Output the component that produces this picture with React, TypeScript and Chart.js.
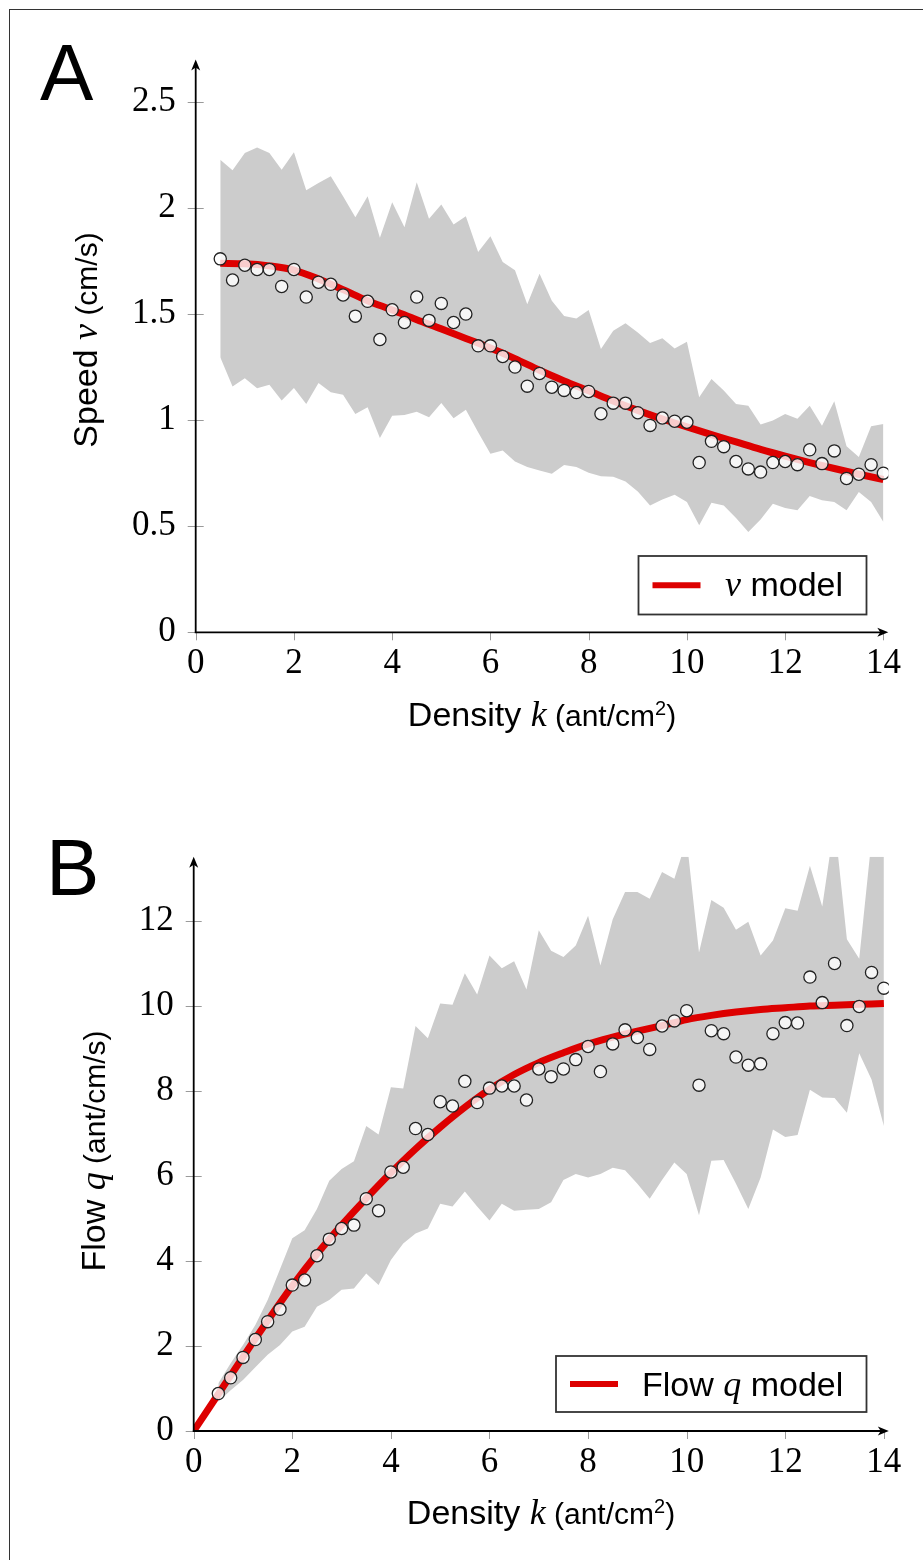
import React, { useEffect, useRef } from 'react';
import { Chart, registerables } from 'chart.js';

Chart.register(...registerables);

const SANS = "'Liberation Sans', Arial, sans-serif";
const SERIF = "'Liberation Serif', 'Times New Roman', serif";

// ---- data ----
const kPoints = [0.5, 0.75, 1, 1.25, 1.5, 1.75, 2, 2.25, 2.5, 2.75, 3, 3.25, 3.5, 3.75, 4, 4.25, 4.5, 4.75, 5, 5.25, 5.5, 5.75, 6, 6.25, 6.5, 6.75, 7, 7.25, 7.5, 7.75, 8, 8.25, 8.5, 8.75, 9, 9.25, 9.5, 9.75, 10, 10.25, 10.5, 10.75, 11, 11.25, 11.5, 11.75, 12, 12.25, 12.5, 12.75, 13, 13.25, 13.5, 13.75, 14];

const vPoints = [1.76, 1.66, 1.73, 1.71, 1.71, 1.63, 1.71, 1.58, 1.65, 1.64, 1.59, 1.49, 1.56, 1.38, 1.52, 1.46, 1.58, 1.47, 1.55, 1.46, 1.5, 1.35, 1.35, 1.3, 1.25, 1.16, 1.22, 1.155, 1.14, 1.13, 1.135, 1.03, 1.08, 1.08, 1.035, 0.975, 1.01, 0.995, 0.99, 0.8, 0.9, 0.875, 0.805, 0.77, 0.755, 0.8, 0.805, 0.79, 0.86, 0.795, 0.855, 0.725, 0.745, 0.79, 0.75];
const vUpper = [2.227, 2.177, 2.259, 2.285, 2.259, 2.18, 2.262, 2.083, 2.118, 2.149, 2.055, 1.956, 2.055, 1.859, 2.027, 1.909, 2.121, 1.949, 2.016, 1.922, 1.961, 1.792, 1.867, 1.745, 1.706, 1.546, 1.69, 1.562, 1.491, 1.479, 1.519, 1.335, 1.421, 1.457, 1.413, 1.363, 1.386, 1.338, 1.369, 1.108, 1.194, 1.139, 1.076, 1.068, 0.979, 0.998, 1.029, 1.006, 1.068, 0.974, 1.089, 0.877, 0.826, 0.971, 0.982];
const vLower = [1.296, 1.159, 1.197, 1.15, 1.167, 1.092, 1.151, 1.076, 1.175, 1.131, 1.12, 1.029, 1.061, 0.916, 1.021, 1.024, 1.04, 1.014, 1.081, 1.009, 1.049, 0.943, 0.841, 0.857, 0.805, 0.779, 0.763, 0.747, 0.789, 0.779, 0.752, 0.736, 0.733, 0.711, 0.664, 0.598, 0.626, 0.648, 0.614, 0.504, 0.611, 0.598, 0.539, 0.473, 0.532, 0.606, 0.586, 0.575, 0.642, 0.622, 0.614, 0.575, 0.661, 0.614, 0.52];
const vModelK = [0.5, 1, 1.5, 2, 2.5, 3, 3.5, 4, 4.5, 5, 5.5, 6, 6.5, 7, 7.5, 8, 8.5, 9, 9.5, 10, 10.5, 11, 11.5, 12, 12.5, 13, 13.5, 14];
const vModel = [1.739, 1.737, 1.727, 1.707, 1.665, 1.615, 1.563, 1.519, 1.473, 1.43, 1.385, 1.34, 1.29, 1.235, 1.185, 1.138, 1.09, 1.046, 1.005, 0.968, 0.932, 0.897, 0.862, 0.83, 0.8, 0.772, 0.745, 0.72];

const qPoints = [0.88, 1.25, 1.73, 2.15, 2.57, 2.86, 3.43, 3.55, 4.12, 4.51, 4.76, 4.84, 5.46, 5.18, 6.09, 6.2, 7.11, 6.97, 7.74, 7.64, 8.22, 7.72, 8.06, 8.11, 8.11, 7.78, 8.51, 8.33, 8.51, 8.73, 9.04, 8.45, 9.1, 9.43, 9.25, 8.97, 9.52, 9.64, 9.88, 8.13, 9.41, 9.34, 8.79, 8.6, 8.63, 9.34, 9.6, 9.59, 10.67, 10.07, 10.99, 9.53, 9.98, 10.78, 10.41];
const qUpper = [1.12, 1.59, 2.02, 2.49, 3.08, 3.8, 4.53, 4.72, 5.22, 5.88, 6.16, 6.34, 7.17, 6.97, 8.08, 8.05, 9.52, 9.23, 10.05, 10.02, 10.76, 10.26, 11.18, 10.88, 11.04, 10.38, 11.77, 11.29, 11.14, 11.41, 12.11, 10.94, 12.03, 12.67, 12.67, 12.51, 13.14, 12.98, 13.9, 11.25, 12.48, 12.3, 11.78, 11.97, 11.18, 11.53, 12.29, 12.23, 13.29, 12.33, 14.3, 11.56, 11.1, 13.9, 14.2];
const qLower = [0.69, 0.96, 1.2, 1.5, 1.79, 2.02, 2.34, 2.45, 2.92, 3.08, 3.32, 3.35, 3.7, 3.43, 4.02, 4.41, 4.64, 4.76, 5.34, 5.28, 5.63, 5.28, 4.95, 5.34, 5.18, 5.2, 5.22, 5.38, 5.9, 6.04, 5.96, 6.04, 6.19, 6.13, 5.81, 5.46, 5.9, 6.31, 6.04, 5.07, 6.35, 6.37, 5.81, 5.22, 5.96, 7.09, 6.91, 6.96, 8.02, 7.84, 7.83, 7.48, 8.88, 8.26, 7.17];
const qModelK = [0, 0.5, 1, 1.5, 2, 2.5, 3, 3.5, 4, 4.5, 5, 5.5, 6, 6.5, 7, 7.5, 8, 8.5, 9, 9.5, 10, 10.5, 11, 11.5, 12, 12.5, 13, 13.5, 14];
const qModel = [0, 0.87, 1.74, 2.59, 3.41, 4.16, 4.84, 5.47, 6.07, 6.63, 7.14, 7.61, 8.03, 8.38, 8.66, 8.89, 9.1, 9.26, 9.4, 9.53, 9.67, 9.77, 9.85, 9.91, 9.95, 9.99, 10.01, 10.03, 10.05];

const xTicks = [0, 2, 4, 6, 8, 10, 12, 14];
const vTicks = [0, 0.5, 1, 1.5, 2, 2.5];
const qTicks = [0, 2, 4, 6, 8, 10, 12];

type Part = { t: string; font: string; dy?: number };

function drawParts(ctx: CanvasRenderingContext2D, parts: Part[], cx: number, by: number) {
  const widths = parts.map((p) => {
    ctx.font = p.font;
    return ctx.measureText(p.t).width;
  });
  const total = widths.reduce((a, b) => a + b, 0);
  let x = cx - total / 2;
  ctx.textAlign = 'left';
  ctx.textBaseline = 'alphabetic';
  parts.forEach((p, i) => {
    ctx.font = p.font;
    ctx.fillText(p.t, x, by + (p.dy || 0));
    x += widths[i];
  });
}

const decorPlugin = {
  id: 'decor',
  afterDraw(chart: any, _args: any, o: any) {
    const ctx: CanvasRenderingContext2D = chart.ctx;
    const xs = chart.scales.x;
    const ys = chart.scales.y;
    const ca = chart.chartArea;
    const x0 = xs.getPixelForValue(0);
    const y0 = ys.getPixelForValue(0);
    ctx.save();
    // tick marks
    ctx.strokeStyle = '#9a9a9a';
    ctx.lineWidth = 1;
    ctx.beginPath();
    for (const t of o.yTicks) {
      const y = Math.round(ys.getPixelForValue(t)) + 0.5;
      ctx.moveTo(x0 - 8, y);
      ctx.lineTo(x0 + 8, y);
    }
    for (const t of o.xTicks) {
      const x = Math.round(xs.getPixelForValue(t)) + 0.5;
      ctx.moveTo(x, y0);
      ctx.lineTo(x, y0 + 8);
    }
    ctx.stroke();
    // axes
    ctx.strokeStyle = '#000';
    ctx.fillStyle = '#000';
    ctx.lineWidth = 1.8;
    ctx.beginPath();
    ctx.moveTo(x0, y0 + 1);
    ctx.lineTo(x0, ca.top + 5);
    ctx.moveTo(x0 - 1, y0);
    ctx.lineTo(ca.right - 5, y0);
    ctx.stroke();
    // arrow heads
    ctx.beginPath();
    ctx.moveTo(x0, ca.top);
    ctx.lineTo(x0 - 4.5, ca.top + 11);
    ctx.lineTo(x0, ca.top + 8);
    ctx.lineTo(x0 + 4.5, ca.top + 11);
    ctx.closePath();
    ctx.fill();
    ctx.beginPath();
    ctx.moveTo(ca.right, y0);
    ctx.lineTo(ca.right - 11, y0 - 4.5);
    ctx.lineTo(ca.right - 8, y0);
    ctx.lineTo(ca.right - 11, y0 + 4.5);
    ctx.closePath();
    ctx.fill();

    // panel letter
    ctx.fillStyle = '#000';
    ctx.font = `80px ${SANS}`;
    ctx.textAlign = 'left';
    ctx.textBaseline = 'alphabetic';
    ctx.fillText(o.letter, o.letterX, o.letterY);

    // x title
    drawParts(ctx, o.xTitle, o.xTitleX, o.xTitleY);
    // y title (rotated)
    ctx.save();
    ctx.translate(o.yTitleX, o.yTitleY);
    ctx.rotate(-Math.PI / 2);
    drawParts(ctx, o.yTitle, 0, 0);
    ctx.restore();

    // legend
    const L = o.legend;
    ctx.fillStyle = '#fff';
    ctx.fillRect(L.x, L.y, L.w, L.h);
    ctx.strokeStyle = '#333';
    ctx.lineWidth = 1.8;
    ctx.strokeRect(L.x, L.y, L.w, L.h);
    ctx.strokeStyle = '#dd0000';
    ctx.lineWidth = 6;
    ctx.beginPath();
    ctx.moveTo(L.x + 14, L.y + L.h / 2);
    ctx.lineTo(L.x + 62, L.y + L.h / 2);
    ctx.stroke();
    ctx.fillStyle = '#000';
    let tx = L.textX;
    ctx.textAlign = 'left';
    ctx.textBaseline = 'alphabetic';
    for (const p of L.parts as Part[]) {
      ctx.font = p.font;
      ctx.fillText(p.t, tx, L.baseline);
      tx += ctx.measureText(p.t).width;
    }
    ctx.restore();
  },
};

const TITLE = `34px ${SANS}`;
const MATH = `italic 36px ${SERIF}`;
const UNIT = `30px ${SANS}`;
const SUP = `20px ${SANS}`;

function buildConfig(p: {
  pts: number[]; upper: number[]; lower: number[]; mk: number[]; mv: number[];
  yMax: number; yTicks: number[]; yWidth: number; top: number; right: number; bottomPad: number;
  decor: any;
}): any {
  const toXY = (xsArr: number[], ysArr: number[]) => xsArr.map((x, i) => ({ x, y: ysArr[i] }));
  return {
    type: 'scatter',
    data: {
      datasets: [
        {
          data: toXY(kPoints, p.pts),
          showLine: false,
          pointRadius: 6.1,
          pointBackgroundColor: 'rgba(255,255,255,0.8)',
          pointBorderColor: '#222',
          pointBorderWidth: 1.3,
          order: 0,
        },
        {
          data: toXY(p.mk, p.mv),
          showLine: true,
          borderColor: '#dd0000',
          borderWidth: 7,
          pointRadius: 0,
          cubicInterpolationMode: 'monotone',
          fill: false,
          order: 1,
        },
        {
          data: toXY(kPoints, p.upper),
          showLine: true,
          borderColor: 'rgba(0,0,0,0)',
          borderWidth: 0,
          pointRadius: 0,
          fill: '+1',
          backgroundColor: '#cccccc',
          tension: 0,
          order: 2,
        },
        {
          data: toXY(kPoints, p.lower),
          showLine: true,
          borderColor: 'rgba(0,0,0,0)',
          borderWidth: 0,
          pointRadius: 0,
          fill: false,
          tension: 0,
          order: 3,
        },
      ],
    },
    options: {
      responsive: false,
      animation: false,
      events: [],
      layout: { padding: { left: 0, right: p.right, top: p.top, bottom: p.bottomPad } },
      plugins: {
        legend: { display: false },
        tooltip: { enabled: false },
        decor: p.decor,
      },
      scales: {
        x: {
          type: 'linear',
          min: 0,
          max: 14.1,
          grid: { display: false, drawTicks: false },
          border: { display: false },
          ticks: { color: '#000', font: { family: SERIF, size: 35 }, padding: 11, maxRotation: 0, autoSkip: false },
          afterBuildTicks: (s: any) => { s.ticks = xTicks.map((v) => ({ value: v })); },
          afterFit: (s: any) => { s.height = 60; },
        },
        y: {
          type: 'linear',
          min: 0,
          max: p.yMax,
          grid: { display: false, drawTicks: false },
          border: { display: false },
          ticks: { color: '#000', font: { family: SERIF, size: 35 }, padding: 20, autoSkip: false, callback: (v: any) => String(v) },
          afterBuildTicks: (s: any) => { s.ticks = p.yTicks.map((v) => ({ value: v })); },
          afterFit: (s: any) => { s.width = p.yWidth; },
        },
      },
    },
    plugins: [decorPlugin],
  };
}

const configA = () =>
  buildConfig({
    pts: vPoints, upper: vUpper, lower: vLower, mk: vModelK, mv: vModel,
    yMax: 2.7, yTicks: vTicks, yWidth: 195.7, top: 59.4, right: 923 - 888.3, bottomPad: 780 - 632.3 - 60,
    decor: {
      letter: 'A', letterX: 40, letterY: 100,
      xTicks, yTicks: vTicks,
      xTitle: [
        { t: 'Density ', font: TITLE },
        { t: 'k', font: MATH },
        { t: ' (ant/cm', font: UNIT },
        { t: '2', font: SUP, dy: -11 },
        { t: ')', font: UNIT },
      ],
      xTitleX: 542, xTitleY: 726,
      yTitle: [
        { t: 'Speed ', font: TITLE },
        { t: 'v', font: MATH },
        { t: ' (cm/s)', font: UNIT },
      ],
      yTitleX: 97, yTitleY: 340,
      legend: {
        x: 638.5, y: 556, w: 228, h: 58.5, textX: 725, baseline: 596,
        parts: [
          { t: 'v', font: MATH },
          { t: ' model', font: TITLE },
        ],
      },
    },
  });

const configB = () =>
  buildConfig({
    pts: qPoints, upper: qUpper, lower: qLower, mk: qModelK, mv: qModel,
    yMax: 13.5, yTicks: qTicks, yWidth: 193.7, top: 856.7 - 780, right: 923 - 888.8, bottomPad: 780 - (1431 - 780) - 60,
    decor: {
      letter: 'B', letterX: 46, letterY: 895 - 780,
      xTicks, yTicks: qTicks,
      xTitle: [
        { t: 'Density ', font: TITLE },
        { t: 'k', font: MATH },
        { t: ' (ant/cm', font: UNIT },
        { t: '2', font: SUP, dy: -11 },
        { t: ')', font: UNIT },
      ],
      xTitleX: 541, xTitleY: 1524 - 780,
      yTitle: [
        { t: 'Flow ', font: TITLE },
        { t: 'q', font: MATH },
        { t: ' (ant/cm/s)', font: UNIT },
      ],
      yTitleX: 105, yTitleY: 1151 - 780,
      legend: {
        x: 556, y: 1356 - 780, w: 310.5, h: 56, textX: 642, baseline: 1396 - 780,
        parts: [
          { t: 'Flow ', font: TITLE },
          { t: 'q', font: MATH },
          { t: ' model', font: TITLE },
        ],
      },
    },
  });

function Panel({ top, make }: { top: number; make: () => any }) {
  const ref = useRef<HTMLCanvasElement | null>(null);
  useEffect(() => {
    if (!ref.current) return;
    const chart = new Chart(ref.current, make());
    return () => chart.destroy();
  }, []);
  return (
    <canvas
      ref={ref}
      width={923}
      height={780}
      style={{ position: 'absolute', left: 0, top, width: 923, height: 780 }}
    />
  );
}

export default function App() {
  return (
    <div style={{ position: 'absolute', left: 0, top: 0, width: 923, height: 1560, background: '#fff', overflow: 'hidden' }}>
      <div
        style={{
          position: 'absolute', left: 9, top: 9, width: 1000, height: 1600,
          borderTop: '1.5px solid #333', borderLeft: '1.5px solid #333',
        }}
      />
      <Panel top={0} make={configA} />
      <Panel top={780} make={configB} />
    </div>
  );
}
